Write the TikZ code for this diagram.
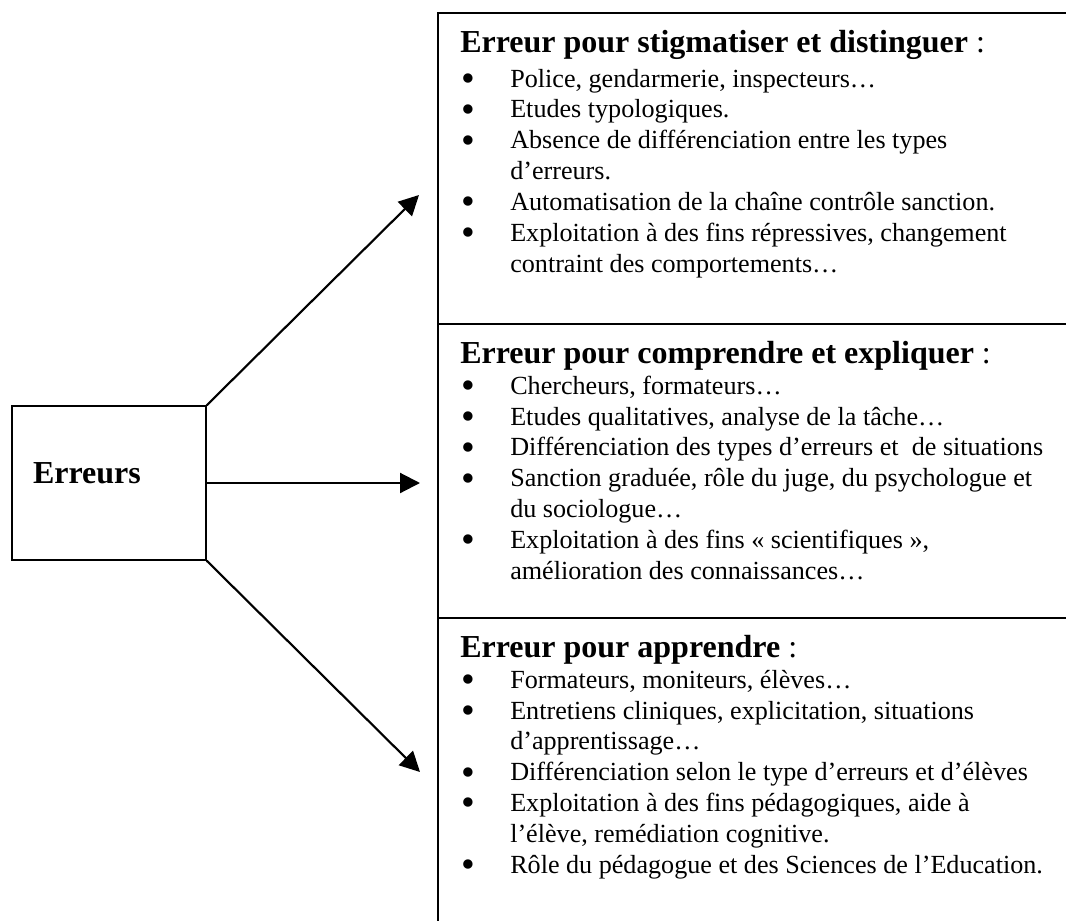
\documentclass[tikz,border=0pt]{standalone}
\usepackage{fontspec}
\usepackage{graphicx}
\setmainfont{Liberation Serif}
\usetikzlibrary{arrows.meta}

\newcommand{\puce}{\makebox[36.75pt][l]{\raisebox{-0.17em}{\scalebox{1.5}{\textbullet}}}}
\newcommand{\suite}{\hspace*{36.75pt}}

\begin{document}
\begin{tikzpicture}[x=0.75pt,y=-0.75pt,
    titolo/.style={anchor=base west,inner sep=0pt,font=\fontsize{24}{28}\selectfont},
    elenco/.style={anchor=base west,inner sep=0pt,align=left,font=\fontsize{19.6}{23.1}\selectfont},
    freccia/.style={line width=1.6pt,-{Triangle[length=15pt,width=15pt]}}]
    % Cornice
    \useasboundingbox (0,0) rectangle (1066,920);
    \clip (0,0) rectangle (1066,920);

    % Riquadri a destra
    \draw[line width=1pt] (438,13) rectangle (1080,324);
    \draw[line width=1pt] (438,324) rectangle (1080,618);
    \draw[line width=1pt] (438,618) rectangle (1080,940);

    % Riquadro centrale
    \node[draw, line width=1pt, minimum width=145.5pt, minimum height=115.5pt,
      text width=114pt, inner xsep=15.75pt, align=left, text height=8pt, text depth=8pt,
      font=\fontsize{24}{28}\selectfont\bfseries] (err) at (109,483) {Erreurs};

    % Frecce
    \coordinate (p1) at (419,195);
    \coordinate (p2) at (420,483);
    \coordinate (p3) at (420,772);
    \draw[freccia] (err.north east) -- (p1);
    \draw[freccia] (err.east) -- (p2);
    \draw[freccia] (err.south east) -- (p3);

    % Primo riquadro (ancora sull'ultima riga)
    \node[titolo] (t1) at (460,53) {\textbf{Erreur pour stigmatiser et distinguer} :};
    \node[elenco] (e1) at (461,272) {\puce Police, gendarmerie, inspecteurs…\\
      \puce Etudes typologiques.\\
      \puce Absence de différenciation entre les types\\
      \suite d’erreurs.\\
      \puce Automatisation de la chaîne contrôle sanction.\\
      \puce Exploitation à des fins répressives, changement\\
      \suite contraint des comportements…};

    % Secondo riquadro
    \node[titolo] (t2) at (460,363) {\textbf{Erreur pour comprendre et expliquer} :};
    \node[elenco] (e2) at (461,579) {\puce Chercheurs, formateurs…\\
      \puce Etudes qualitatives, analyse de la tâche…\\
      \puce Différenciation des types d’erreurs et~ de situations\\
      \puce Sanction graduée, rôle du juge, du psychologue et\\
      \suite du sociologue…\\
      \puce Exploitation à des fins « scientifiques »,\\
      \suite amélioration des connaissances…};

    % Terzo riquadro
    \node[titolo] (t3) at (460,657) {\textbf{Erreur pour apprendre} :};
    \node[elenco] (e3) at (461,873) {\puce Formateurs, moniteurs, élèves…\\
      \puce Entretiens cliniques, explicitation, situations\\
      \suite d’apprentissage…\\
      \puce Différenciation selon le type d’erreurs et d’élèves\\
      \puce Exploitation à des fins pédagogiques, aide à\\
      \suite l’élève, remédiation cognitive.\\
      \puce Rôle du pédagogue et des Sciences de l’Education.};
\end{tikzpicture}
\end{document}
